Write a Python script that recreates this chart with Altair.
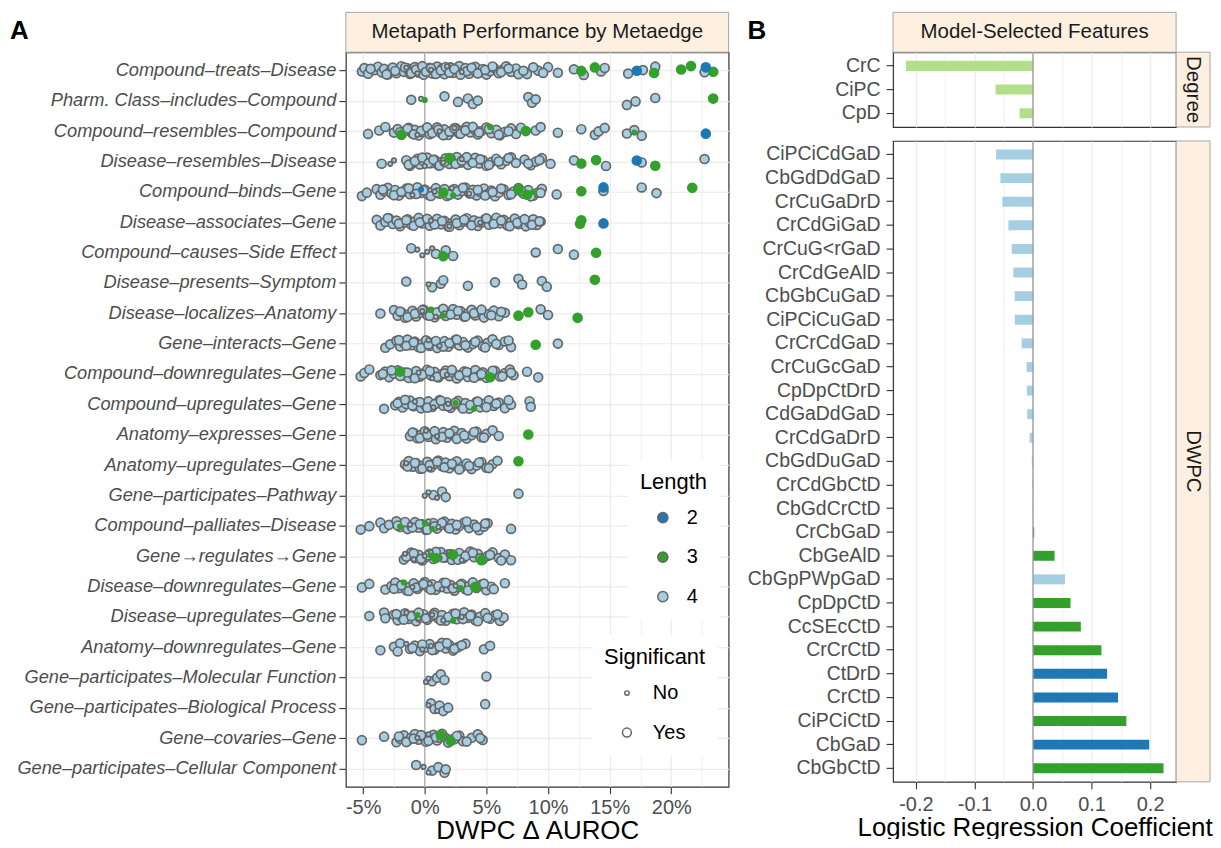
import json
import pandas as pd
import altair as alt

FONT = "Liberation Sans"
BEIGE = "#fdf0e0"
STRIP_STROKE = "#a6a6a6"
LEN_DOMAIN = ["2", "3", "4"]
LEN_COLORS = ["#1f78b4", "#33a02c", "#a6cee3"]

# ---------------- Panel A data (DWPC delta AUROC, in percent) ----------------
metaedges = [
    "Compound–treats–Disease",
    "Pharm. Class–includes–Compound",
    "Compound–resembles–Compound",
    "Disease–resembles–Disease",
    "Compound–binds–Gene",
    "Disease–associates–Gene",
    "Compound–causes–Side Effect",
    "Disease–presents–Symptom",
    "Disease–localizes–Anatomy",
    "Gene–interacts–Gene",
    "Compound–downregulates–Gene",
    "Compound–upregulates–Gene",
    "Anatomy–expresses–Gene",
    "Anatomy–upregulates–Gene",
    "Gene–participates–Pathway",
    "Compound–palliates–Disease",
    "Gene→regulates→Gene",
    "Disease–downregulates–Gene",
    "Disease–upregulates–Gene",
    "Anatomy–downregulates–Gene",
    "Gene–participates–Molecular Function",
    "Gene–participates–Biological Process",
    "Gene–covaries–Gene",
    "Gene–participates–Cellular Component",
]

l4_sig = [
    [-5.1, -4.9, -4.6, -4.1, -3.8, -3.5, -3.3, -3.0, -2.8, -2.6, -2.3, -2.1, -1.9, -1.7, -1.4, -1.2, -1.0, -0.8,
     -0.5, -0.3, -0.1, 0.2, 0.4, 0.6, 0.8, 1.0, 1.2, 1.4, 1.6, 1.9, 2.1, 2.3, 2.6, 2.8, 3.1, 3.3, 3.6, 3.9, 4.1,
     4.4, 4.7, 5.0, 5.3, 5.6, 6.0, 6.3, 6.6, 7.0, 7.4, 8.3, 9.2, 10.0, 10.8, 12.1, 12.9, 14.3, 14.6, 16.5, 17.7,
     18.7, 22.7,
     -4.4, -3.1, -2.4, -1.6, -1.1, -0.7, -0.2, 0.1, 0.5, 0.9, 1.3, 1.7, 2.0, 2.4, 2.9, 3.4, 3.8, 4.3, 4.9, 5.5,
     6.2, 6.8, 7.6, 8.0, 8.8, 9.6],
    [-1.1, 1.6, 2.7, 3.5, 3.9, 4.3, 8.4, 8.7, 9.0, 16.4, 17.1, 18.7],
    [-4.6, -3.7, -3.2, -2.5, -2.2, -1.9, -1.6, -1.3, -1.0, -0.8, -0.5, -0.2, 0.1, 0.4, 0.7, 1.0, 1.3, 1.6, 1.9,
     2.2, 2.5, 2.8, 3.1, 3.4, 3.7, 4.0, 4.3, 4.6, 5.0, 5.4, 5.8, 6.1, 6.5, 7.0, 7.4, 9.0, 9.4, 10.8, 12.7, 13.8,
     14.1, 14.6, 16.4, 17.0, 17.6,
     -2.0, -1.4, -0.9, -0.3, 0.2, 0.6, 1.1, 1.5, 2.0, 2.4, 2.9, 3.3, 3.9, 4.4, 5.2, 6.0, 6.8, 7.8],
    [-3.5, -1.5, -1.2, -0.9, -0.6, -0.4, -0.1, 0.2, 0.5, 0.8, 1.1, 1.4, 1.7, 2.0, 2.3, 2.6, 2.9, 3.2, 3.5, 3.8,
     4.1, 4.4, 4.7, 5.0, 5.4, 5.8, 6.2, 6.6, 7.0, 7.4, 8.1, 8.6, 9.0, 9.5, 10.2, 12.1, 14.7, 17.6, 22.7,
     -1.3, -0.8, -0.2, 0.3, 0.7, 1.2, 1.6, 2.1, 2.5, 3.0, 3.4, 3.9, 4.5, 5.2, 6.0, 6.8, 8.4, 9.3],
    [-5.1, -4.7, -3.9, -3.6, -3.3, -3.0, -2.7, -2.4, -2.1, -1.8, -1.5, -1.2, -0.9, -0.6, -0.3, 0.0, 0.3, 0.6,
     0.9, 1.2, 1.5, 1.8, 2.1, 2.4, 2.7, 3.0, 3.3, 3.6, 3.9, 4.2, 4.5, 4.8, 5.1, 5.4, 5.7, 6.0, 6.4, 6.8, 7.2,
     7.6, 8.0, 8.4, 8.8, 9.2, 9.5, 10.7, 14.5, 17.6, 18.8,
     -3.4, -2.5, -1.9, -1.3, -0.7, -0.1, 0.5, 1.0, 1.6, 2.0, 2.6, 3.1, 3.7, 4.3, 4.9, 5.5, 6.2, 7.0, 7.8, 8.6,
     9.4],
    [-3.9, -3.6, -3.2, -2.9, -2.6, -2.3, -2.0, -1.7, -1.4, -1.1, -0.8, -0.5, -0.2, 0.1, 0.4, 0.7, 1.0, 1.3, 1.6,
     1.9, 2.2, 2.5, 2.8, 3.1, 3.4, 3.7, 4.0, 4.3, 4.6, 4.9, 5.2, 5.5, 5.8, 6.1, 6.4, 6.7, 7.0, 7.3, 7.6, 7.9,
     8.2, 8.5, 8.8, 9.1, 9.4,
     -3.0, -2.1, -1.5, -0.9, -0.4, 0.2, 0.8, 1.4, 2.0, 2.6, 3.2, 3.8, 4.4, 5.0, 5.6, 6.2, 6.9, 7.5, 8.1, 8.7,
     9.3],
    [-1.1, 0.9, 1.7, 2.3, 9.0, 10.8, 12.1],
    [-1.5, 0.6, 1.3, 1.5, 3.5, 5.7, 7.6, 7.9, 9.5, 9.9],
    [-3.6, -2.5, -2.2, -1.9, -1.6, -1.3, -1.0, -0.7, -0.4, -0.1, 0.2, 0.5, 0.8, 1.1, 1.4, 1.7, 2.0, 2.3, 2.6,
     2.9, 3.2, 3.5, 3.8, 4.1, 4.4, 4.8, 5.2, 5.6, 6.0, 6.5, 9.4, 10.0,
     -2.0, -1.4, -0.8, -0.2, 0.4, 1.0, 1.5, 2.1, 2.7, 3.3, 4.0, 4.6, 5.4, 6.2],
    [-3.2, -2.8, -2.3, -2.0, -1.7, -1.4, -1.1, -0.8, -0.5, -0.2, 0.1, 0.4, 0.7, 1.0, 1.3, 1.6, 1.9, 2.2, 2.5,
     2.8, 3.1, 3.5, 3.9, 4.3, 4.7, 5.1, 5.5, 6.0, 6.5, 7.0, 10.8,
     -2.1, -1.5, -0.9, -0.3, 0.3, 0.9, 1.5, 2.0, 2.6, 3.3, 4.1, 4.9, 5.8, 6.8],
    [-5.2, -4.9, -4.5, -3.6, -3.2, -2.9, -2.5, -2.2, -1.9, -1.6, -1.3, -1.0, -0.7, -0.4, -0.1, 0.2, 0.5, 0.8,
     1.1, 1.4, 1.7, 2.0, 2.3, 2.6, 2.9, 3.2, 3.5, 3.8, 4.1, 4.4, 4.7, 5.0, 5.3, 5.7, 6.1, 6.5, 6.9, 7.2, 8.3,
     9.2,
     -3.4, -2.7, -2.0, -1.4, -0.8, -0.2, 0.4, 1.0, 1.6, 2.2, 2.8, 3.4, 4.0, 4.6, 5.5, 6.3, 7.0],
    [-3.3, -2.4, -2.1, -1.8, -1.5, -1.2, -0.9, -0.6, -0.3, 0.0, 0.3, 0.6, 0.9, 1.2, 1.5, 1.8, 2.1, 2.4, 2.7,
     3.0, 3.3, 3.6, 3.9, 4.2, 4.5, 4.8, 5.2, 5.6, 6.0, 6.5, 7.0, 8.5, 8.6,
     -2.2, -1.6, -1.0, -0.4, 0.2, 0.8, 1.3, 1.9, 2.5, 3.1, 3.7, 4.3, 5.0, 5.8, 6.8],
    [-1.2, -0.9, -0.6, -0.3, 0.0, 0.3, 0.6, 0.9, 1.2, 1.5, 1.8, 2.1, 2.4, 2.7, 3.0, 3.4, 3.8, 4.2, 4.6, 5.0,
     5.5, 6.0,
     -1.0, -0.4, 0.2, 0.8, 1.4, 2.0, 2.6, 3.2, 4.0, 4.8],
    [-1.6, -1.3, -1.0, -0.7, -0.4, -0.1, 0.2, 0.5, 0.8, 1.1, 1.4, 1.7, 2.0, 2.3, 2.6, 3.0, 3.4, 3.8, 4.2, 4.6,
     5.0, 5.5, 5.9,
     -1.4, -0.8, -0.2, 0.4, 1.0, 1.6, 2.2, 2.8, 3.6, 4.4, 5.2],
    [0.7, 1.4, 1.7, 7.6],
    [-5.2, -4.5, -3.6, -3.3, -2.9, -2.3, -2.0, -1.7, -1.4, -1.1, -0.8, -0.5, -0.2, 0.1, 0.4, 0.7, 1.0, 1.3, 1.6,
     1.9, 2.2, 2.5, 2.8, 3.2, 3.6, 4.0, 4.4, 4.8, 5.1, 7.0,
     -2.2, -1.6, -1.0, -0.4, 0.2, 0.8, 1.4, 2.0, 2.6, 3.4, 4.2, 4.9],
    [-1.7, -1.4, -1.1, -0.8, -0.5, -0.2, 0.1, 0.4, 0.7, 1.0, 1.3, 1.6, 1.9, 2.2, 2.5, 2.8, 3.1, 3.4, 3.7, 4.0,
     4.3, 4.7, 5.1, 5.5, 6.0, 6.5, 7.0,
     -1.5, -0.9, -0.3, 0.3, 0.9, 1.5, 2.1, 2.7, 3.3, 3.9, 4.5, 5.3, 6.2],
    [-5.1, -4.5, -3.2, -2.7, -2.4, -2.1, -1.8, -1.5, -1.2, -0.9, -0.6, -0.3, 0.0, 0.3, 0.6, 0.9, 1.2, 1.5, 1.8,
     2.1, 2.4, 2.7, 3.0, 3.3, 3.6, 3.9, 4.2, 4.6, 5.0, 5.4, 6.5,
     -2.5, -1.9, -1.3, -0.7, -0.1, 0.5, 1.1, 1.7, 2.3, 2.9, 3.5, 4.1, 4.8, 5.6],
    [-4.5, -3.3, -3.2, -2.5, -2.2, -1.9, -1.6, -1.3, -1.0, -0.7, -0.4, -0.1, 0.2, 0.5, 0.8, 1.1, 1.4, 1.7, 2.0,
     2.3, 2.6, 2.9, 3.2, 3.5, 3.8, 4.1, 4.5, 4.9, 5.3, 5.7, 6.1, 6.4,
     -2.3, -1.7, -1.1, -0.5, 0.1, 0.7, 1.3, 1.9, 2.5, 3.1, 3.7, 4.3, 5.1, 5.9],
    [-3.6, -2.5, -2.0, -1.2, -0.8, -0.4, 0.0, 0.4, 0.8, 1.1, 1.4, 1.7, 2.0, 2.3, 2.7, 3.3, 4.8, 5.3,
     -2.2, -1.0, -0.2, 0.6, 1.2, 1.8, 2.4, 3.0],
    [0.6, 1.0, 1.3, 1.6, 5.0],
    [0.5, 0.8, 1.2, 1.5, 1.9, 4.9],
    [-5.1, -3.3, -2.3, -2.0, -1.7, -1.4, -1.1, -0.8, -0.5, -0.2, 0.1, 0.4, 0.7, 1.0, 1.6, 1.9, 2.4, 2.8, 3.1,
     3.8, 4.3, 4.7,
     -2.1, -1.5, -0.9, -0.3, 0.3, 0.9, 1.4, 2.1, 2.6, 3.4, 4.5],
    [-0.7, 0.6, 1.1, 1.6, 1.7],
]
l4_ns = [
    [-1.5, -0.6, 0.5, 1.8, 3.0], [-0.3], [-0.6, 1.2, 2.4], [-2.8, -2.5, 0.0, 1.5, 3.0], [-1.0, 0.8, 2.2, 3.6],
    [0.5, 2.0, 4.5], [-0.6, -0.2, 0.2, 0.6], [0.3], [-0.2, 0.9, 1.6], [0.3, 1.2], [-0.5, 0.6, 1.8],
    [-0.8, 0.7, 1.9], [0.1, 1.0], [-1.5, 0.4], [0.0, 0.3, 1.0], [-1.2, 0.3, 1.1],
    [-1.6, -0.9, 0.0, 0.5, 1.2, 2.0, 3.0], [-1.0, 0.4, 1.4, 2.5], [-1.5, -0.5, 0.6, 1.5, 3.0],
    [-1.5, -0.2, 0.5], [0.1, 0.3], [0.3, 1.0], [-0.6, 0.3, 1.2], [-0.1, 0.3],
]
l3_sig = [
    [12.7, 13.8, 18.6, 20.8, 21.6, 23.4], [23.4], [-1.9, 8.2], [2.0, 12.7, 13.9, 18.7], [1.5, 7.6, 8.3, 12.7, 21.7],
    [12.6, 12.7], [1.5, 13.9], [13.8], [7.6, 8.4, 12.4], [9.0], [-2.0, 5.3], [], [8.4], [7.6], [], [],
    [0.9, 2.3, 4.6], [4.1], [], [], [], [], [1.3, 2.1], [],
]
l3_ns = [
    [], [0.0], [5.3, 17.0], [1.9], [2.3, 8.8], [], [], [], [0.5, 1.5], [], [], [2.5, 4.0], [], [], [],
    [-2.0, 0.0, 0.6], [0.5], [-1.7, 2.9], [-0.6, 2.3], [], [], [], [], [],
]
l2_sig = [
    [17.2, 22.8], [], [22.8], [17.2], [14.5], [14.5], [], [], [], [], [], [], [], [], [], [], [], [], [], [],
    [], [], [], [],
]
l2_ns = [
    [], [], [], [], [-0.3], [], [], [], [], [], [], [], [], [], [], [], [], [], [], [], [], [], [], [],
]

# ---------------- Panel B data (logistic regression coefficients) ----------------
degree_features = ["CrC", "CiPC", "CpD"]
degree_coef = [-0.217, -0.064, -0.023]

dwpc_features = [
    "CiPCiCdGaD", "CbGdDdGaD", "CrCuGaDrD", "CrCdGiGaD", "CrCuG<rGaD", "CrCdGeAlD", "CbGbCuGaD",
    "CiPCiCuGaD", "CrCrCdGaD", "CrCuGcGaD", "CpDpCtDrD", "CdGaDdGaD", "CrCdGaDrD", "CbGdDuGaD",
    "CrCdGbCtD", "CbGdCrCtD", "CrCbGaD", "CbGeAlD", "CbGpPWpGaD", "CpDpCtD", "CcSEcCtD", "CrCrCtD",
    "CtDrD", "CrCtD", "CiPCiCtD", "CbGaD", "CbGbCtD",
]
dwpc_coef = [
    -0.063, -0.0557, -0.0523, -0.042, -0.0364, -0.0335, -0.0313, -0.031, -0.0194, -0.011, -0.0105,
    -0.0099, -0.0058, -0.002, -0.001, 0.0005, 0.002, 0.0368, 0.0545, 0.064, 0.0817, 0.1168, 0.1265,
    0.1452, 0.1594, 0.1985, 0.2229,
]
dwpc_length = [4, 4, 4, 4, 4, 4, 4, 4, 4, 4, 4, 4, 4, 4, 4, 4, 3, 3, 4, 3, 3, 3, 2, 2, 3, 2, 3]

# ---------------- build tables ----------------
records = []
groups = [("4", l4_sig, "Yes"), ("4", l4_ns, "No"), ("3", l3_sig, "Yes"), ("3", l3_ns, "No"),
          ("2", l2_sig, "Yes"), ("2", l2_ns, "No")]
for length, table, sig in groups:
    for r, vals in enumerate(table):
        for v in vals:
            records.append({"row": r, "metaedge": metaedges[r], "delta": v, "length": length, "sig": sig})
points = pd.DataFrame(records)

deg_df = pd.DataFrame({"feature": degree_features, "coef": degree_coef})
dwpc_df = pd.DataFrame({"feature": dwpc_features, "coef": dwpc_coef,
                        "length": [str(x) for x in dwpc_length]})
one = pd.DataFrame({"k": [0]})

# ---------------- layout constants ----------------
A_W, A_H, HDR_H = 384, 737, 40
B_W, DEG_H, DWPC_H, STRIP_W = 284, 75, 643, 34


def box(x0, x1, y0, y1):
    return alt.Chart(one).mark_rect(fill=BEIGE, stroke=STRIP_STROKE, strokeWidth=1).encode(
        x=alt.value(x0), x2=alt.value(x1), y=alt.value(y0), y2=alt.value(y1))


def label(text, x, y, size=20.5, angle=0, bold=False, align="center", baseline="middle", color="#1a1a1a"):
    return alt.Chart(one).mark_text(text=text, fontSize=size, angle=angle, color=color, align=align,
                                    baseline=baseline, fontWeight="bold" if bold else "normal").encode(
        x=alt.value(x), y=alt.value(y))


# ---------------- Panel A ----------------
major5 = "datum.value % 5 === 0"
a_xaxis = alt.Axis(
    values=[-5, -2.5, 0, 2.5, 5, 7.5, 10, 12.5, 15, 17.5, 20, 22.5],
    labelExpr="datum.value % 5 === 0 ? (datum.value < 0 ? '-' : '') + abs(datum.value) + '%' : ''",
    title="DWPC Δ AUROC", titleFontSize=26, titlePadding=0, labelFontSize=20, labelPadding=4,
    tickSize=7, tickOpacity={"condition": {"test": major5, "value": 1}, "value": 0},
    gridWidth={"condition": {"test": major5, "value": 1.2}, "value": 0.7},
    labelFlush=False, labelOverlap=False,
)
a_xscale = alt.Scale(domain=[-6.4, 24.65], nice=False, zero=False)
a_yaxis = alt.Axis(
    values=list(range(len(metaedges))),
    labelExpr=json.dumps(metaedges, ensure_ascii=False) + "[datum.value]",
    title=None, labelFontSize=18.3, labelFontStyle="italic", tickSize=7, labelPadding=3,
    labelLimit=400, labelFlush=False, labelOverlap=False, gridWidth=1.2,
)
a_yscale = alt.Scale(domain=[-0.6, len(metaedges) - 0.4], reverse=True, nice=False, zero=False)

len_legend = alt.Legend(title="Length", orient="none", legendX=283, legendY=409,
                        fillColor="white", padding=12, titleFontSize=22, labelFontSize=20,
                        titleFontWeight="normal", titleColor="black", labelColor="black",
                        titlePadding=14, rowPadding=19.6, symbolSize=104,
                        symbolStrokeColor="#666666", symbolStrokeWidth=1.5,
                        symbolOffset=13, labelOffset=14, symbolType="circle")
fill_enc = alt.Fill("length:N", scale=alt.Scale(domain=LEN_DOMAIN, range=LEN_COLORS), legend=len_legend)
stroke_enc = alt.Stroke("length:N", scale=alt.Scale(domain=LEN_DOMAIN, range=["#666666"] * 3),
                        legend=len_legend)
size_enc = alt.Size("sig:O", scale=alt.Scale(domain=["No", "Yes"], range=[20, 80]),
                    legend=alt.Legend(title="Significant", orient="none", legendX=247, legendY=585,
                                      fillColor="white", padding=12, titleFontSize=22, labelFontSize=20,
                                      titleFontWeight="normal", titleColor="black", labelColor="black",
                                      titlePadding=14, rowPadding=19.6, symbolFillColor="white",
                                      symbolStrokeColor="#666666", symbolStrokeWidth=1.5,
                                      symbolOffset=13, labelOffset=16, symbolType="circle"))

jitter = "datum.row + 0.3 * (((datum.idx * 0.6180339887) % 1) - 0.5)"
pbase = alt.Chart(points).transform_window(idx="row_number()").transform_calculate(ypos=jitter)
x_enc = alt.X("delta:Q", scale=a_xscale, axis=a_xaxis)
y_enc = alt.Y("ypos:Q", scale=a_yscale, axis=a_yaxis)

zero_a = alt.Chart(pd.DataFrame({"delta": [0]})).mark_rule(color="#a8a8a8", strokeWidth=1.2).encode(
    x=alt.X("delta:Q", scale=a_xscale, axis=a_xaxis))
l4_layer = pbase.transform_filter("datum.length === '4'").mark_point(
    filled=True, shape="circle", strokeWidth=1.7, opacity=1).encode(
    x=x_enc, y=y_enc, fill=fill_enc, stroke=stroke_enc, size=size_enc)
l3_layer = pbase.transform_filter("datum.length === '3'").mark_point(
    filled=True, shape="circle", strokeWidth=1.7, opacity=1, stroke=LEN_COLORS[1]).encode(
    x=x_enc, y=y_enc, fill=fill_enc, size=size_enc)
l2_layer = pbase.transform_filter("datum.length === '2'").mark_point(
    filled=True, shape="circle", strokeWidth=1.7, opacity=1, stroke=LEN_COLORS[0]).encode(
    x=x_enc, y=y_enc, fill=fill_enc, size=size_enc)

panel_a = alt.layer(
    zero_a, l4_layer, l3_layer, l2_layer,
    box(0, A_W, -HDR_H, 0),
    label("Metapath Performance by Metaedge", A_W / 2, -HDR_H / 2),
    label("A", -337, -34.5, size=26, bold=True, align="left", baseline="top", color="black"),
).properties(width=A_W, height=A_H)

# ---------------- Panel B ----------------
minor_b = "abs(datum.value * 10 - round(datum.value * 10)) > 0.01"
b_vals = [-0.2, -0.15, -0.1, -0.05, 0.0, 0.05, 0.1, 0.15, 0.2]
b_xscale = alt.Scale(domain=[-0.239, 0.2444], nice=False, zero=False)
b_grid_w = {"condition": {"test": minor_b, "value": 0.7}, "value": 1.2}
b_xaxis_top = alt.Axis(values=b_vals, labels=False, ticks=False, title=None, gridWidth=b_grid_w)
b_xaxis = alt.Axis(
    values=b_vals, title="Logistic Regression Coefficient", titleFontSize=26, titlePadding=0,
    labelExpr=minor_b + " ? '' : (datum.value < -0.001 ? '-' : '') + format(abs(datum.value), '.1f')",
    labelFontSize=20, labelPadding=6, tickSize=7,
    tickOpacity={"condition": {"test": minor_b, "value": 0}, "value": 1},
    gridWidth=b_grid_w, labelFlush=False, labelOverlap=False,
)


def b_yaxis():
    return alt.Axis(title=None, labelFontSize=19.5, tickSize=7, labelPadding=6, labelLimit=300,
                    gridWidth=1.2)


band = alt.Scale(paddingInner=0.578, paddingOuter=0.364)

deg_bars = alt.Chart(deg_df).mark_bar(color="#b2df8a").encode(
    x=alt.X("coef:Q", scale=b_xscale, axis=b_xaxis_top),
    x2=alt.datum(0),
    y=alt.Y("feature:N", sort=degree_features, scale=band, axis=b_yaxis()),
)
deg_zero = alt.Chart(pd.DataFrame({"coef": [0]})).mark_rule(color="#999999", strokeWidth=1.3).encode(
    x=alt.X("coef:Q", scale=b_xscale, axis=b_xaxis_top))
deg_plot = alt.layer(
    deg_bars, deg_zero,
    box(0, B_W, -HDR_H, 0),
    label("Model-Selected Features", B_W / 2, -HDR_H / 2),
    label("B", -146, -34.5, size=26, bold=True, align="left", baseline="top", color="black"),
    box(B_W, B_W + STRIP_W, 0, DEG_H),
    label("Degree", B_W + STRIP_W / 2, DEG_H / 2, angle=90),
).properties(width=B_W, height=DEG_H)

dwpc_bars = alt.Chart(dwpc_df).mark_bar().encode(
    x=alt.X("coef:Q", scale=b_xscale, axis=b_xaxis),
    x2=alt.datum(0),
    y=alt.Y("feature:N", sort=dwpc_features, scale=band, axis=b_yaxis()),
    color=alt.Color("length:N", scale=alt.Scale(domain=LEN_DOMAIN, range=LEN_COLORS), legend=None),
)
dwpc_zero = alt.Chart(pd.DataFrame({"coef": [0]})).mark_rule(color="#999999", strokeWidth=1.3).encode(
    x=alt.X("coef:Q", scale=b_xscale, axis=b_xaxis))
dwpc_plot = alt.layer(
    dwpc_bars, dwpc_zero,
    box(B_W, B_W + STRIP_W, 0, DWPC_H),
    label("DWPC", B_W + STRIP_W / 2, DWPC_H / 2, angle=90),
).properties(width=B_W, height=DWPC_H)

panel_b = alt.vconcat(deg_plot, dwpc_plot, spacing=14, bounds="flush")

chart = alt.hconcat(panel_a, panel_b, spacing=16).resolve_scale(
    fill="independent", stroke="independent", size="independent", color="independent"
).resolve_legend(
    fill="independent", stroke="independent", size="independent", color="independent"
).configure(
    font=FONT, padding={"left": 1, "top": 1, "right": 0, "bottom": -7}
).configure_view(
    stroke="#333333", strokeWidth=1.2
).configure_axis(
    labelFont=FONT, titleFont=FONT, labelColor="#4d4d4d", titleColor="black", titleFontWeight="normal",
    tickColor="#333333", tickWidth=1.1, gridColor="#ebebeb", domain=False,
).configure_legend(
    labelFont=FONT, titleFont=FONT,
)

chart.save("out.html", embed_options={"renderer": "svg", "actions": False})
